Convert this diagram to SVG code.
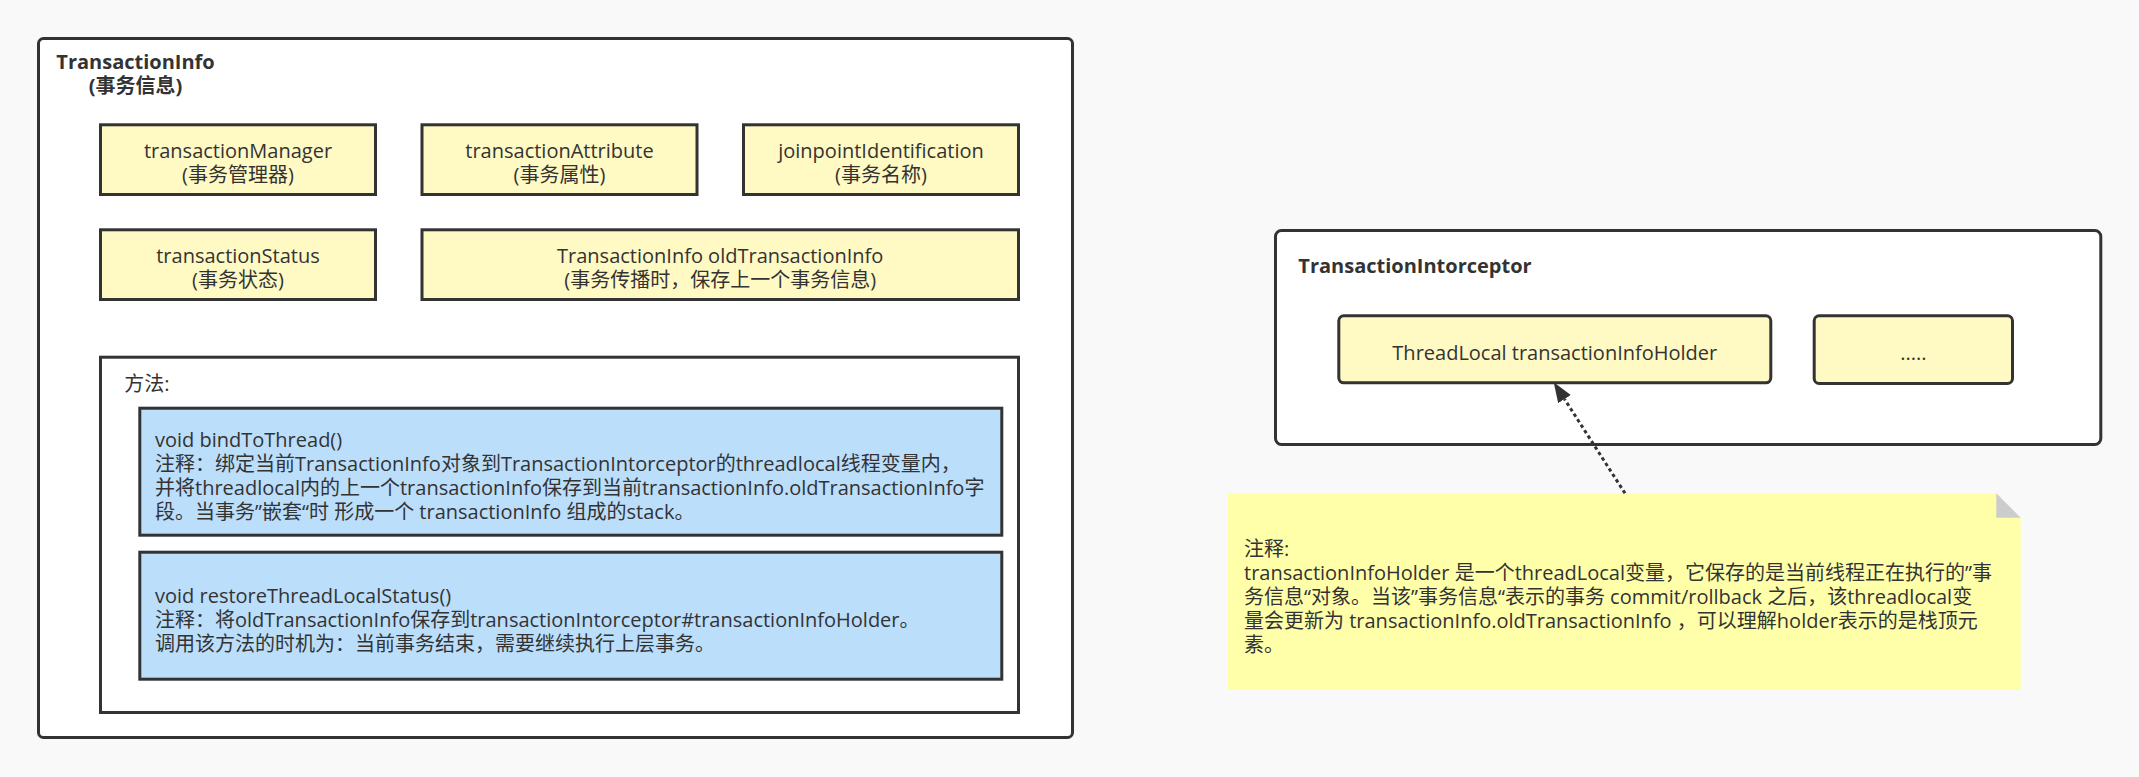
<svg xmlns="http://www.w3.org/2000/svg" width="2139" height="777" viewBox="0 0 2139 777">
<defs>
<style>
text{font-family:"Open Sans","Noto Sans CJK SC",sans-serif;font-size:20px;fill:#333}
.b{font-weight:bold}
.c{text-anchor:middle}
.frame{fill:#fff;stroke:#333;stroke-width:3}
.field{fill:#fff9c4;stroke:#333;stroke-width:3}
.method{fill:#bbdefb;stroke:#333;stroke-width:3}
.conn{fill:none;stroke:#333;stroke-width:3;stroke-dasharray:3.5 3}
</style>
<marker id="arr" markerUnits="userSpaceOnUse" markerWidth="22" markerHeight="16" refX="0" refY="7.5" orient="auto">
<path d="M0,0 L20,7.5 L0,15 z" fill="#333"/>
</marker>
</defs>
<rect x="0" y="0" width="2139" height="777" fill="#f9f9f9"/>

<g id="transactionInfo">
<rect class="frame" x="38.5" y="38.5" width="1034" height="699" rx="5"/>
<text class="b c" x="135.5" y="69">TransactionInfo</text>
<text class="b c" x="135.5" y="93">(事务信息)</text>
</g>

<g id="transactionManager">
<rect class="field" x="100.5" y="124.8" width="275" height="69.7"/>
<text class="c" x="238" y="157.5">transactionManager</text>
<text class="c" x="238" y="181.5">(事务管理器)</text>
</g>
<g id="transactionAttribute">
<rect class="field" x="422" y="124.8" width="275" height="69.7"/>
<text class="c" x="559.5" y="157.5">transactionAttribute</text>
<text class="c" x="559.5" y="181.5">(事务属性)</text>
</g>
<g id="joinpointIdentification">
<rect class="field" x="743.5" y="124.8" width="275" height="69.7"/>
<text class="c" x="881" y="157.5">joinpointIdentification</text>
<text class="c" x="881" y="181.5">(事务名称)</text>
</g>
<g id="transactionStatus">
<rect class="field" x="100.5" y="229.8" width="275" height="69.7"/>
<text class="c" x="238" y="262.7">transactionStatus</text>
<text class="c" x="238" y="286.7">(事务状态)</text>
</g>
<g id="oldTransactionInfo">
<rect class="field" x="422" y="229.8" width="596.5" height="69.7"/>
<text class="c" x="720.2" y="262.7">TransactionInfo oldTransactionInfo</text>
<text class="c" x="720.2" y="286.7">(事务传播时，保存上一个事务信息)</text>
</g>

<g id="methods">
<rect class="frame" x="100.5" y="357.2" width="918" height="355.3"/>
<text x="124.3" y="391">方法:</text>
</g>
<g id="bindToThread">
<rect class="method" x="139.8" y="408.2" width="862" height="127"/>
<text x="155" y="446.5">void bindToThread()</text>
<text x="155" y="470.7">注释：绑定当前TransactionInfo对象到TransactionIntorceptor的threadlocal线程变量内，</text>
<text x="155" y="494.9">并将threadlocal内的上一个transactionInfo保存到当前transactionInfo.oldTransactionInfo字</text>
<text x="155" y="519.1">段。当事务”嵌套“时 形成一个 transactionInfo 组成的stack。</text>
</g>
<g id="restoreThreadLocalStatus">
<rect class="method" x="139.8" y="552.2" width="862" height="127"/>
<text x="155" y="602.7">void restoreThreadLocalStatus()</text>
<text x="155" y="626.9">注释：将oldTransactionInfo保存到transactionIntorceptor#transactionInfoHolder。</text>
<text x="155" y="651.1">调用该方法的时机为：当前事务结束，需要继续执行上层事务。</text>
</g>

<g id="transactionIntorceptor">
<rect class="frame" x="1275.5" y="230.5" width="825.3" height="214" rx="6"/>
<text class="b" x="1298.3" y="272.7">TransactionIntorceptor</text>
</g>
<g id="transactionInfoHolder">
<rect class="field" x="1338.8" y="315.8" width="432" height="67" rx="5"/>
<text class="c" x="1554.8" y="360">ThreadLocal transactionInfoHolder</text>
</g>
<g id="more">
<rect class="field" x="1814.2" y="315.8" width="198.3" height="67.7" rx="5"/>
<text class="c" x="1913.3" y="360">.....</text>
</g>

<g id="note">
<polygon points="1228,493.3 1996.3,493.3 2020.7,517.7 2020.7,690 1228,690" fill="#ffffaa"/>
<polygon points="1996.3,493.3 1996.3,517.7 2020.7,517.7" fill="#cccccc"/>
<text x="1244" y="555.5">注释:</text>
<text x="1244" y="579.7">transactionInfoHolder 是一个threadLocal变量，它保存的是当前线程正在执行的”事</text>
<text x="1244" y="603.9">务信息“对象。当该”事务信息“表示的事务 commit/rollback 之后，该threadlocal变</text>
<text x="1244" y="628.1">量会更新为 transactionInfo.oldTransactionInfo ，可以理解holder表示的是栈顶元</text>
<text x="1244" y="652.3">素。</text>
</g>

<g id="connectors">
<line class="conn" x1="1625" y1="493.3" x2="1564.5" y2="399.1" marker-end="url(#arr)"/>
</g>
</svg>
